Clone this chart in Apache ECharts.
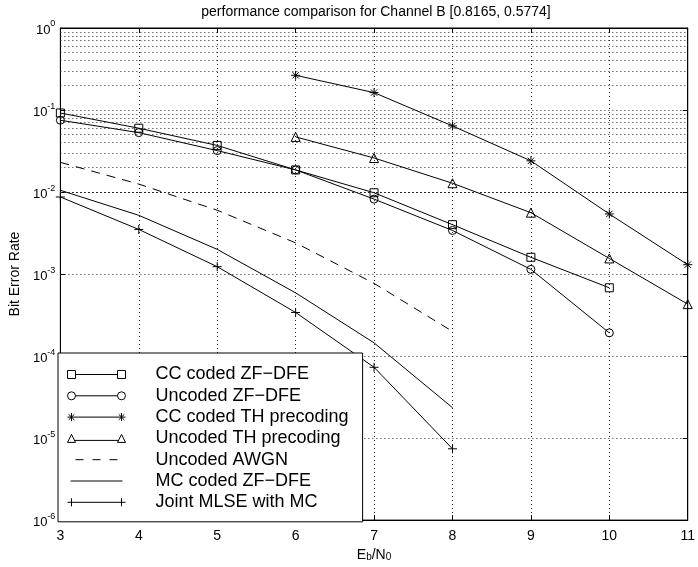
<!DOCTYPE html>
<html><head><meta charset="utf-8">
<script src="https://cdn.jsdelivr.net/npm/echarts@6/dist/echarts.min.js"></script>
<style>html,body{margin:0;padding:0;background:#fff}#c{width:698px;height:567px}</style>
</head><body><div id="c"></div>
<script>
// ---- data ----
const xTicks = [3,4,5,6,7,8,9,10,11];
const xZf = [3,4,5,6,7,8,9,10];
const ccZf  = [0.092, 0.060, 0.037, 0.0186, 0.0098, 0.0040, 0.0016, 0.00068];
const uncZf = [0.075, 0.053, 0.032, 0.0186, 0.0082, 0.0034, 0.00114, 0.000192];
const xTh = [6,7,8,9,10,11];
const ccTh  = [0.265, 0.163, 0.064, 0.024, 0.0054, 0.0013];
const uncTh = [0.047, 0.026, 0.0128, 0.0056, 0.00155, 0.00043];
const xMc = [3,4,5,6,7,8];
const awgn = [0.023, 0.0125, 0.006, 0.0024, 0.00077, 0.0002];
const mcZf = [0.0105, 0.0052, 0.0020, 0.00059, 0.000145, 0.0000235];
const mlse = [0.0087, 0.0035, 0.00123, 0.00034, 0.000073, 0.0000074];
const names = ['CC coded ZF\u2212DFE','Uncoded ZF\u2212DFE','CC coded TH precoding','Uncoded TH precoding','Uncoded AWGN','MC coded ZF\u2212DFE','Joint MLSE with MC'];
const decades = [-6,-5,-4,-3,-2,-1];
const minorMult = [2,3,4,5,6,7,8,9];
const titleText = 'performance comparison for Channel B [0.8165, 0.5774]';

const minorVals = [];
decades.forEach(d => minorMult.forEach(m => minorVals.push(m * Math.pow(10, d))));
const pairs = (xs, ys) => xs.map((x, i) => [x, ys[i]]);

const FONT = 'Liberation Sans, Arial, Helvetica, sans-serif';
const STAR = 'path://M0,4H8M4,0V8M1.2,1.2L6.8,6.8M1.2,6.8L6.8,1.2';
const PLUS = 'path://M0,4H8M4,0V8';
const icons = {
  sq: 'path://M0,0H8V8H0ZM50,0H58V8H50ZM8,4H50',
  ci: 'path://M0,4A4,4 0 1 1 8,4A4,4 0 1 1 0,4ZM50,4A4,4 0 1 1 58,4A4,4 0 1 1 50,4ZM8,4H50',
  st: 'path://M0,4H58M4,0V8M1.2,1.2L6.8,6.8M1.2,6.8L6.8,1.2M54,0V8M51.2,1.2L56.8,6.8M51.2,6.8L56.8,1.2',
  tr: 'path://M4,0L8,8H0ZM54,0L58,8H50ZM7,6H51',
  da: 'path://M29,0L29,0M29,8L29,8M2,4H10M19,4H27M36,4H44',
  so: 'path://M29,0L29,0M29,8L29,8M0,4H52',
  pl: 'path://M0,4H58M4,0V8M54,0V8'
};
const mk = (name, data, symbol, extra) => Object.assign({
  name, type: 'line', data, symbol, symbolSize: 8, z: 3,
  lineStyle: { color: '#000', width: 1 },
  itemStyle: { color: 'rgba(0,0,0,0)', borderColor: '#000', borderWidth: 1 },
  emphasis: { disabled: true }, animation: false
}, extra || {});

const chart = echarts.init(document.getElementById('c'), null, { renderer: 'canvas' });
const dot = { color: '#222', width: 1, type: [1, 3] };
chart.setOption({
  backgroundColor: '#fff',
  animation: false,
  textStyle: { fontFamily: FONT },
  title: { text: titleText, left: 376, top: 5, textAlign: 'center', padding: 0,
    textStyle: { fontFamily: FONT, fontSize: 14, fontWeight: 'normal', color: '#000' } },
  grid: { left: 55, right: 6, top: 28, bottom: 41, show: true, borderColor: '#000', borderWidth: 1, backgroundColor: 'transparent' },
  xAxis: [{
    type: 'value', min: 3, max: 11, interval: 1,
    name: 'E{sub|b}/N{sub|0}', nameLocation: 'middle', nameGap: 21,
    nameTextStyle: { fontFamily: FONT, fontSize: 14, color: '#000', padding: [0,0,4,0],
      rich: { sub: { fontSize: 10, fontFamily: FONT, color: '#000', verticalAlign: 'bottom' } } },
    axisLine: { show: true, lineStyle: { color: '#000', width: 1 } },
    axisTick: { show: true, inside: true, length: 5, lineStyle: { color: '#000' } },
    axisLabel: { fontFamily: FONT, fontSize: 14, color: '#000', margin: 9 },
    splitLine: { show: true, lineStyle: dot }
  }, {
    type: 'value', min: 3, max: 11, interval: 1, position: 'top',
    axisLine: { show: true, lineStyle: { color: '#000' } },
    axisTick: { show: true, inside: true, length: 5, lineStyle: { color: '#000' } },
    axisLabel: { show: false }, splitLine: { show: false }
  }],
  yAxis: [{
    type: 'log', logBase: 10, min: 1e-6, max: 1, interval: 1,
    name: 'Bit Error Rate', nameLocation: 'middle', nameGap: 36, nameRotate: 90,
    nameTextStyle: { fontFamily: FONT, fontSize: 14, color: '#000' },
    axisLine: { show: true, lineStyle: { color: '#000', width: 1 } },
    axisTick: { show: true, inside: true, length: 5, lineStyle: { color: '#000' } },
    axisLabel: {
      margin: 5, color: '#000',
      formatter: v => '{b|10}{sup|' + Math.round(Math.log10(v)) + '}',
      rich: {
        b: { fontFamily: FONT, fontSize: 13, color: '#000', padding: [4, 0, 0, 0] },
        sup: { fontFamily: FONT, fontSize: 9, color: '#000', verticalAlign: 'top' }
      }
    },
    splitLine: { show: true, lineStyle: dot }
  }, {
    type: 'log', logBase: 10, min: 1e-6, max: 1, interval: 1, position: 'right',
    axisLine: { show: true, lineStyle: { color: '#000' } },
    axisTick: { show: true, inside: true, length: 5, lineStyle: { color: '#000' } },
    axisLabel: { show: false }, splitLine: { show: false }
  }],
  legend: {
    orient: 'vertical', left: 58, top: 353,
    padding: [11, 14, 9, 9],
    itemWidth: 58, itemHeight: 8, itemGap: 0.3,
    backgroundColor: '#fff', borderColor: '#000', borderWidth: 1,
    selectedMode: false,
    textStyle: { fontFamily: FONT, fontSize: 18, color: '#000', lineHeight: 21, padding: [0, 0, 0, 25] },
    itemStyle: { color: 'rgba(0,0,0,0)', borderColor: '#000', borderWidth: 1 },
    data: [
      { name: names[0], icon: icons.sq },
      { name: names[1], icon: icons.ci },
      { name: names[2], icon: icons.st },
      { name: names[3], icon: icons.tr },
      { name: names[4], icon: icons.da },
      { name: names[5], icon: icons.so },
      { name: names[6], icon: icons.pl }
    ]
  },
  series: [
    {
      name: 'minor-grid', type: 'line', data: [[3, 1e-6]], symbol: 'none', silent: true,
      lineStyle: { width: 0, opacity: 0 }, z: 1, animation: false,
      markLine: {
        silent: true, symbol: 'none', animation: false, label: { show: false },
        lineStyle: dot, emphasis: { disabled: true },
        data: minorVals.map(v => ({ yAxis: v }))
      }
    },
    mk(names[0], pairs(xZf, ccZf), 'rect'),
    mk(names[1], pairs(xZf, uncZf), 'circle'),
    mk(names[2], pairs(xTh, ccTh), STAR, { symbolSize: 9 }),
    mk(names[3], pairs(xTh, uncTh), 'triangle', { symbolSize: 9 }),
    mk(names[4], pairs(xMc, awgn), 'none', { lineStyle: { color: '#000', width: 1, type: [9, 7] } }),
    mk(names[5], pairs(xMc, mcZf), 'none'),
    mk(names[6], pairs(xMc, mlse), PLUS, { symbolSize: 9 })
  ]
});
</script></body></html>
